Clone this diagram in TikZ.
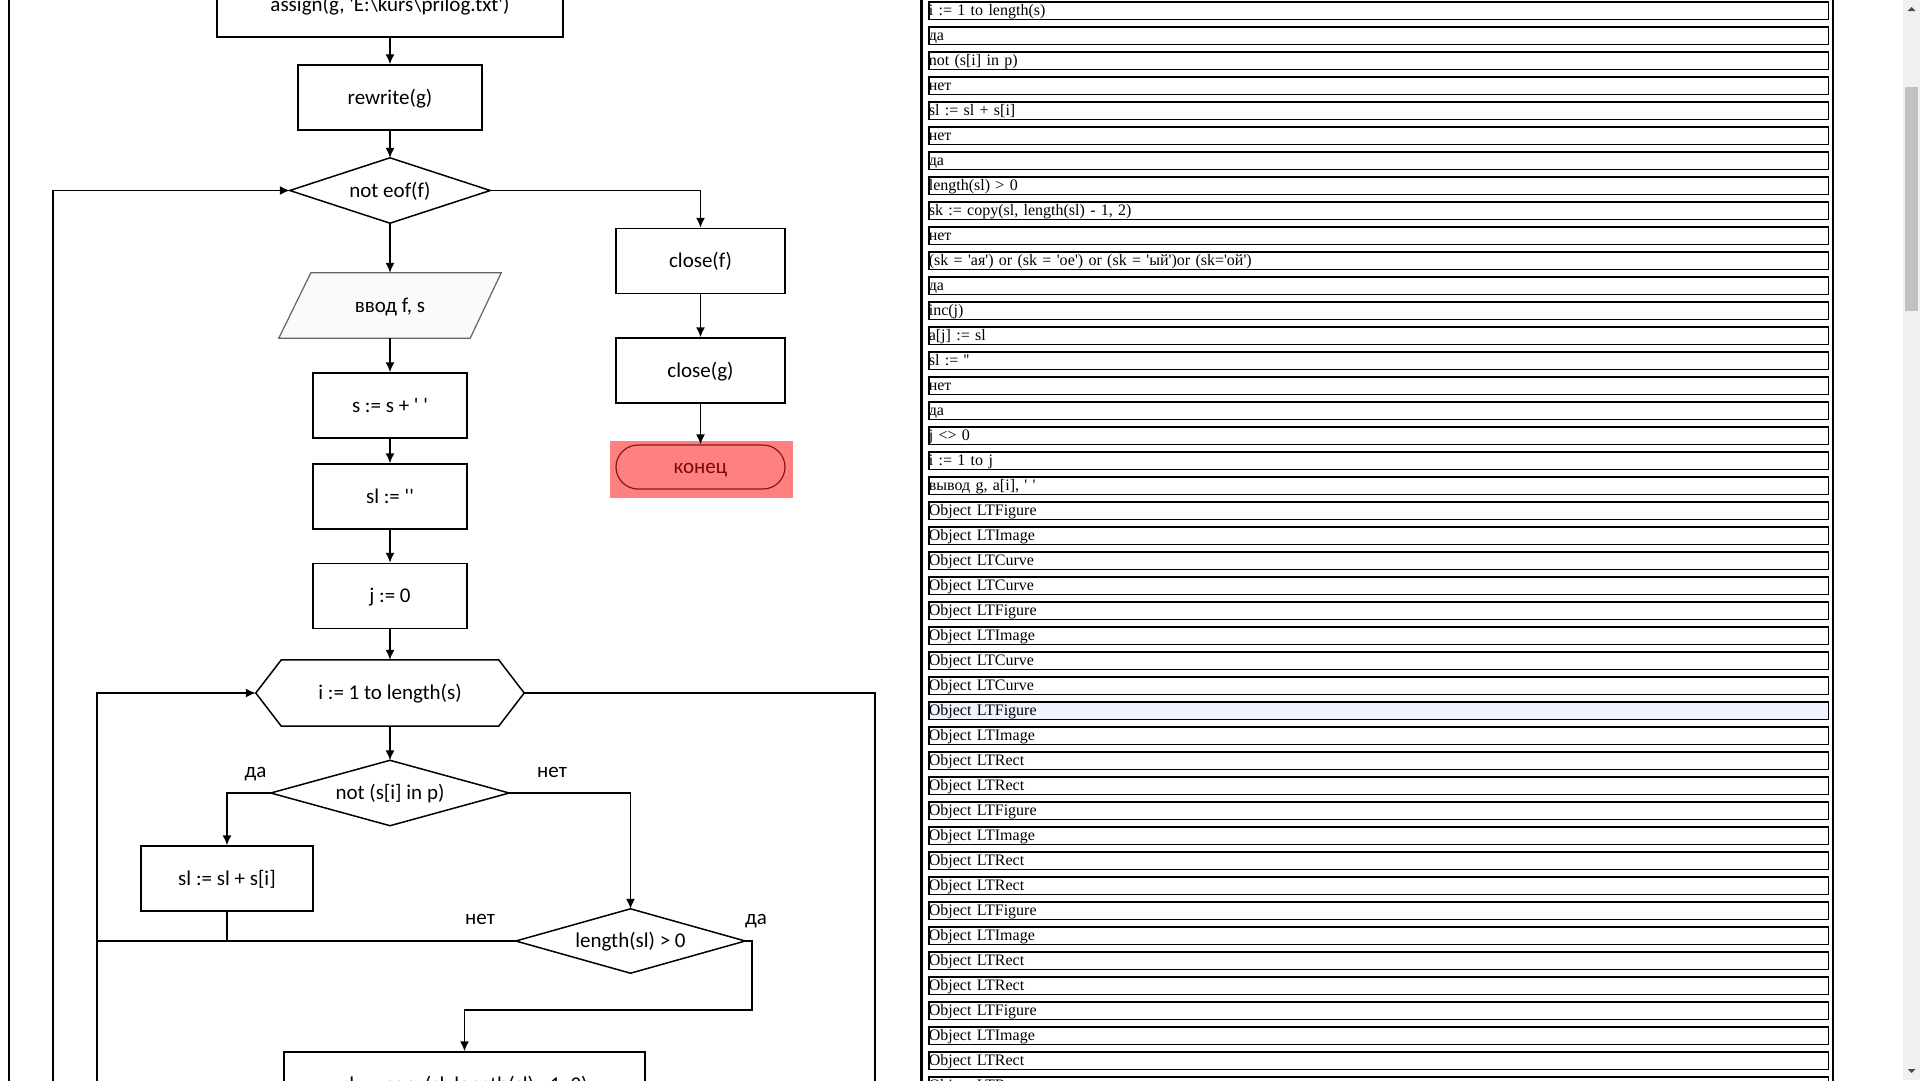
\documentclass[tikz,border=0pt]{standalone}
\usepackage{fontspec}
\newfontfamily\carl{Carlito}
\newfontfamily\tnr{Liberation Serif}
\usetikzlibrary{arrows.meta,calc,backgrounds}
\definecolor{hl}{RGB}{238,243,254}
\definecolor{endfill}{RGB}{255,128,128}
\definecolor{endline}{RGB}{140,20,20}
\definecolor{endtext}{RGB}{120,10,10}
\definecolor{track}{RGB}{240,240,240}
\definecolor{thumb}{RGB}{193,193,193}
\definecolor{iofill}{RGB}{250,250,250}
\definecolor{ioline}{RGB}{100,100,100}
\begin{document}
\begin{tikzpicture}[x=1pt,y=-1pt,
  flow/.style={font=\carl\fontsize{21}{25}\selectfont, inner sep=0pt, text height=16pt, text depth=3pt},
  proc/.style={flow, draw, line width=1.5pt, fill=white, minimum height=65pt},
  shapebox/.style={flow, minimum height=65pt},
  arr/.style={line width=1.5pt, -{Latex[length=10pt,width=9pt]}},
  ln/.style={line width=1.5pt},
  row/.style={draw, line width=1.6pt, anchor=north west, inner xsep=0pt, inner ysep=0pt,
    text width=899.5pt, text height=13.5pt, text depth=4pt, align=left,
    font=\tnr\fontsize{16}{18}\selectfont}
]
\useasboundingbox (0,0) rectangle (1920,1080);
\clip (0,0) rectangle (1920,1080);
\begin{scope}[on background layer]
  \fill[white] (0,0) rectangle (1920,1080);
\end{scope}

% ---------- flowchart ----------
\node[proc, minimum width=346pt] (assign) at (390,4.5) {assign(g, 'E:\textbackslash kurs\textbackslash prilog.txt')};
\node[proc, minimum width=184pt] (rewrite) at (390,97.5) {rewrite(g)};
\node[shapebox, minimum width=200pt] (eof) at (390,190.5) {not eof(f)};
\draw[ln] (eof.north) -- (eof.east) -- (eof.south) -- (eof.west) -- cycle;
\node[shapebox, minimum width=190pt] (input) at (390,305.5) {ввод f, s};
\begin{scope}[on background layer]
  \draw[ioline, fill=iofill, line width=1.2pt]
    ($(input.north west)+(16,0)$) -- ($(input.north east)+(16,0)$)
    -- ($(input.south east)+(-15,0)$) -- ($(input.south west)+(-16,0)$) -- cycle;
\end{scope}
\node[proc, minimum width=154pt] (sadd) at (390,405.5) {s := s + ' '};
\node[proc, minimum width=154pt] (slzero) at (390,496.5) {sl := ''};
\node[proc, minimum width=154pt] (jzero) at (390,596) {j := 0};
\node[flow, minimum width=217pt, minimum height=66pt] (for) at (390,693) {i := 1 to length(s)};
\coordinate (forW) at ($(for.west)+(-25.5,0)$);
\coordinate (forE) at ($(for.east)+(25.5,0)$);
\draw[ln] (forW) -- (for.north west) -- (for.north east) -- (forE)
  -- (for.south east) -- (for.south west) -- cycle;
\node[shapebox, minimum width=238pt] (notin) at (390,793) {not (s[i] in p)};
\draw[ln] (notin.north) -- (notin.east) -- (notin.south) -- (notin.west) -- cycle;
\node[proc, minimum width=172pt] (sladd) at (227,878.5) {sl := sl + s[i]};
\node[shapebox, minimum width=229pt, minimum height=64pt] (len) at (630.5,941) {length(sl) > 0};
\draw[ln] (len.north) -- (len.east) -- (len.south) -- (len.west) -- cycle;
\node[proc, minimum width=361pt] (copy) at (464.5,1084.5) {sk := copy(sl, length(sl) - 1, 2)};

\node[proc, minimum width=169pt] (closef) at (700.5,261) {close(f)};
\node[proc, minimum width=169pt] (closeg) at (700.5,370.5) {close(g)};
\fill[endfill] (610,441) rectangle (793,498);
\node[flow, draw=endline, fill=endfill, text=endtext, line width=1.2pt, rounded corners=22pt,
  minimum width=169pt, minimum height=44pt] (stop) at (700.5,467) {конец};

\node[flow] (yes1) at (255.5,771) {да};
\node[flow] (no1) at (552,771) {нет};
\node[flow] (no2) at (480,918) {нет};
\node[flow] (yes2) at (756,918) {да};

% loop rails and jog points
\coordinate (outerB) at (53,1100);
\coordinate (innerB) at (97,1100);
\coordinate (innerR) at (875,1100);
\coordinate (jog) at (752,1010);

% connectors
\draw[arr] (assign) -- (rewrite);
\draw[arr] (rewrite) -- (eof);
\draw[arr] (eof) -- (input);
\draw[arr] (input) -- (sadd);
\draw[arr] (sadd) -- (slzero);
\draw[arr] (slzero) -- (jzero);
\draw[arr] (jzero) -- (for);
\draw[arr] (eof.east) -| (closef.north);
\draw[arr] (closef) -- (closeg);
\draw[arr] (closeg) -- (stop);
\draw[arr] (outerB) |- (eof.west);
\draw[arr] (innerB) |- (forW);
\draw[ln] (forE) -| (innerR);
\draw[arr] (for.south) -- (notin.north);
\draw[arr] (notin.west) -| (sladd.north);
\draw[arr] (notin.east) -| (len.north);
\draw[ln] (sladd.south) -- (sladd.south |- len.west);
\draw[ln] (len.west) -- (innerB |- len.west);
\draw[arr] (len.east) -| (jog) -| (copy.north);

% ---------- panel frames ----------
\draw[line width=1.2pt] (9,-5) -- (9,1085);
\draw[line width=3pt] (921,-5) -- (921,1085);
\draw[line width=1.5pt] (1833,-5) -- (1833,1085);

% ---------- object list ----------
\foreach \txt [count=\i from 0] in {{i := 1 to length(s)}, {да}, {not (s[i] in p)}, {нет},
  {sl := sl + s[i]}, {нет}, {да}, {length(sl) > 0}, {sk := copy(sl, length(sl) - 1, 2)},
  {нет}, {(sk = 'ая') or (sk = 'ое') or (sk = 'ый')or (sk='ой')}, {да}, {inc(j)},
  {a[j] := sl}, {sl := ''}, {нет}, {да}, {j <> 0}, {i := 1 to j}, {вывод g, a[i], ' '},
  {Object LTFigure}, {Object LTImage}, {Object LTCurve}, {Object LTCurve},
  {Object LTFigure}, {Object LTImage}, {Object LTCurve}, {Object LTCurve},
  {Object LTFigure}, {Object LTImage}, {Object LTRect}, {Object LTRect},
  {Object LTFigure}, {Object LTImage}, {Object LTRect}, {Object LTRect},
  {Object LTFigure}, {Object LTImage}, {Object LTRect}, {Object LTRect},
  {Object LTFigure}, {Object LTImage}, {Object LTRect}, {Object LTRect}}
{
  \ifnum\i=28 \def\rowfill{hl}\else\def\rowfill{white}\fi
  \node[row, fill=\rowfill] (row\i) at (928,25*\i+1) {\txt};
}

% ---------- scrollbar ----------
\fill[track] (1903,0) rectangle (1920,1080);
\fill[thumb] (1905,87) rectangle (1918,311);
\fill[black!70] (1907.5,11) -- (1915.5,11) -- (1911.5,7) -- cycle;
\fill[black!70] (1907.5,1069) -- (1915.5,1069) -- (1911.5,1073) -- cycle;
\end{tikzpicture}
\end{document}
